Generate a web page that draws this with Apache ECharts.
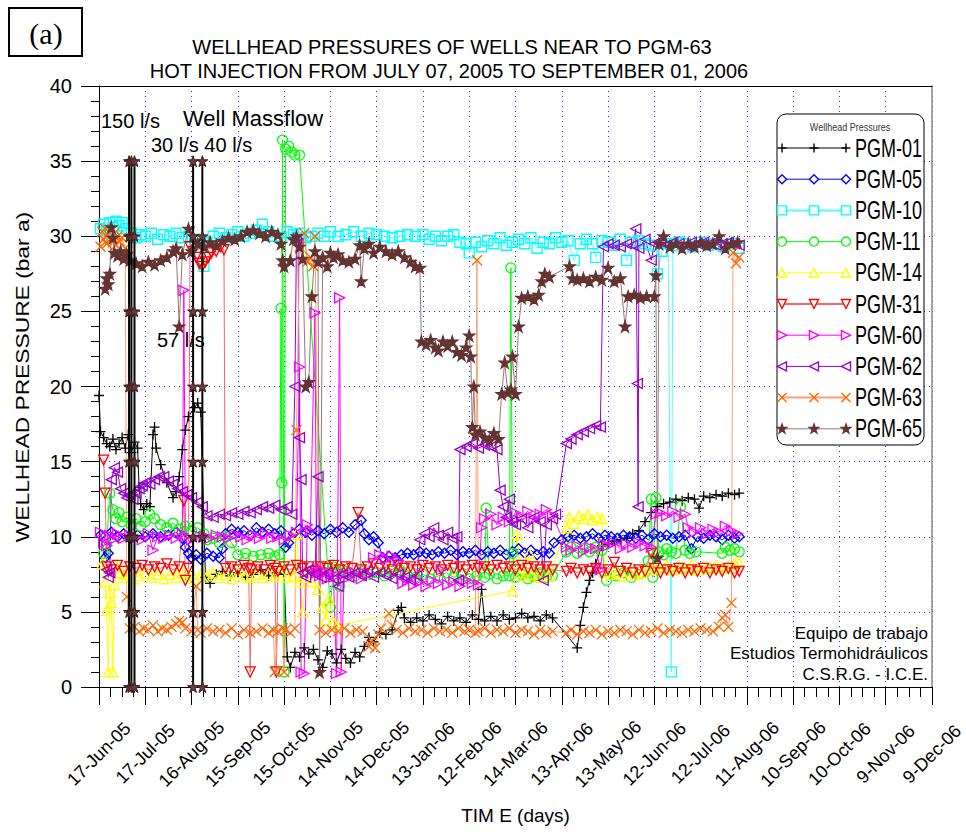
<!DOCTYPE html>
<html>
<head>
<meta charset="utf-8">
<script src="https://cdn.jsdelivr.net/npm/echarts/dist/echarts.min.js"></script>
<style>
  html, body { margin: 0; padding: 0; background: #fff; }
  #chart { width: 966px; height: 832px; }
</style>
</head>
<body>
<div id="chart"></div>
<script>
// Time axis: days counted from 17-Jun-2005, one labelled tick every 30 days
const tickLabels = ['17-Jun-05','17-Jul-05','16-Aug-05','15-Sep-05','15-Oct-05','14-Nov-05',
  '14-Dec-05','13-Jan-06','12-Feb-06','14-Mar-06','13-Apr-06','13-May-06','12-Jun-06',
  '12-Jul-06','11-Aug-06','10-Sep-06','10-Oct-06','9-Nov-06','9-Dec-06'];

// Wellhead pressure readings, [day, bar a]
const pgm01 = [[0,19.4],[1,17.0],[3,16.6],[5,16.2],[7,16.0],[9,16.5],[11,15.8],[13,16.2],[15,16.6],[17,15.9],[19,16.8],[21,15.6],[23,16.3],[25,15.9],[26,13.3],[27,12.2],[29,11.8],[31,12.2],[33,12.0],[35,16.8],[36,17.3],[37,15.9],[40,14.8],[44,13.6],[48,12.6],[50,13.0],[52,14.0],[54,15.8],[56,17.1],[58,18.0],[62,18.6],[64,18.9],[66,18.3],[69,7.3],[72,6.9],[76,7.5],[80,7.7],[85,7.4],[90,7.6],[95,7.3],[100,7.5],[105,7.8],[110,7.4],[115,7.6],[120,7.5],[122,2.0],[124,1.3],[127,2.3],[130,2.0],[133,2.6],[136,2.2],[139,2.5],[142,1.8],[145,1.3],[148,2.4],[151,2.2],[154,1.6],[157,2.5],[160,1.9],[163,1.6],[166,2.3],[169,2.0],[172,2.7],[175,3.3],[178,3.0],[182,3.6],[186,3.5],[190,3.8],[194,5.1],[196,5.3],[198,4.6],[202,4.3],[206,4.6],[210,4.4],[214,4.8],[218,4.5],[222,4.2],[226,4.7],[230,4.4],[234,4.6],[238,4.3],[242,4.8],[246,4.5],[248,6.5],[250,4.4],[254,4.7],[258,4.4],[262,4.8],[266,4.5],[270,4.6],[274,4.9],[278,4.6],[282,4.7],[286,4.4],[290,4.8],[294,4.6],[310,2.6],[312,4.1],[314,5.3],[316,6.3],[318,7.1],[320,7.6],[322,8.2],[326,9.4],[330,9.5],[334,9.7],[338,9.8],[342,9.9],[346,10.2],[350,10.4],[354,11.0],[358,11.6],[362,12.0],[366,12.2],[370,12.3],[374,12.5],[378,12.4],[382,12.6],[386,12.5],[389,11.9],[392,12.7],[396,12.6],[400,12.8],[404,12.7],[408,12.9],[412,12.8],[415,12.9]];

const pgm05 = [[1,10.1],[4,8.6],[6,8.9],[8,10.3],[12,10.0],[16,10.2],[20,9.9],[25,10.1],[30,10.0],[35,10.2],[40,10.0],[45,10.1],[50,10.3],[54,9.9],[56,9.3],[58,8.9],[60,8.6],[63,8.8],[66,8.5],[70,8.9],[74,8.7],[78,8.6],[80,9.2],[82,10.2],[86,10.5],[90,10.3],[94,10.4],[98,10.1],[102,10.6],[106,10.3],[110,10.5],[114,10.2],[118,10.4],[121,9.3],[123,9.6],[126,10.2],[130,10.5],[134,10.3],[138,10.1],[142,10.4],[146,10.2],[150,10.5],[154,10.3],[158,10.6],[162,10.3],[166,10.8],[170,11.1],[172,10.2],[175,9.8],[178,10.0],[181,9.6],[184,8.6],[188,8.7],[192,8.6],[196,8.8],[200,8.9],[204,8.8],[208,9.0],[212,8.9],[216,8.8],[220,9.0],[224,8.9],[228,9.1],[232,8.8],[236,9.0],[240,8.9],[244,9.1],[248,8.8],[252,9.0],[256,8.9],[260,9.1],[264,8.8],[268,9.0],[272,9.2],[276,8.9],[280,9.1],[284,8.8],[288,9.0],[292,8.9],[295,9.6],[300,9.8],[304,10.0],[308,10.1],[312,9.9],[316,10.0],[320,10.2],[324,9.9],[328,10.1],[332,10.0],[336,9.9],[340,10.1],[344,10.0],[348,9.9],[352,10.1],[356,9.8],[360,10.2],[364,10.0],[368,10.1],[372,9.9],[376,10.0],[380,10.1],[384,9.2],[388,10.0],[392,9.9],[396,10.1],[400,10.0],[404,9.8],[408,10.1],[412,9.9],[415,10.0]];

const pgm10 = [[1,30.5],[3,30.8],[5,30.4],[7,30.9],[9,30.6],[11,31.0],[13,30.7],[15,30.9],[18,30.5],[21,30.2],[24,29.9],[27,30.1],[30,30.0],[34,30.2],[38,29.8],[42,30.1],[46,30.0],[50,30.2],[54,29.9],[58,30.0],[62,29.8],[66,29.5],[68,28.0],[70,29.6],[74,30.0],[78,30.2],[82,29.9],[86,30.1],[90,30.3],[94,30.0],[98,30.2],[102,30.4],[106,30.8],[110,30.3],[114,30.0],[118,29.9],[122,30.3],[126,30.1],[130,30.2],[134,29.9],[138,30.0],[142,30.2],[146,30.0],[150,30.3],[155,30.0],[160,30.1],[165,30.3],[170,30.0],[175,30.2],[180,30.1],[185,30.0],[190,29.9],[195,30.0],[200,30.1],[205,30.0],[210,30.1],[214,29.8],[218,30.0],[222,29.7],[226,30.0],[230,30.1],[234,29.6],[238,29.5],[240,28.9],[244,29.6],[248,29.3],[252,29.7],[256,29.5],[260,29.9],[264,29.4],[268,29.6],[272,29.8],[276,29.5],[280,29.9],[284,29.2],[288,29.6],[292,29.5],[296,29.9],[300,29.6],[304,29.7],[308,28.4],[312,29.5],[316,29.8],[320,29.5],[322,28.6],[326,29.7],[330,29.6],[334,29.4],[338,29.8],[342,28.4],[346,29.6],[350,29.7],[354,29.5],[358,29.4],[362,27.5],[365,29.0],[369,29.5],[371,1.0],[372,29.4],[376,29.6],[380,29.5],[385,29.3],[390,29.6],[395,29.4],[400,29.5],[405,29.3],[410,29.5],[415,29.2]];

const pgm11 = [[3,8.9],[5,9.5],[7,12.9],[9,11.8],[11,11.2],[13,11.6],[15,11.0],[18,11.3],[21,10.8],[24,11.2],[27,10.7],[30,11.0],[33,11.5],[36,11.2],[40,10.8],[44,10.6],[48,10.9],[52,10.5],[56,10.7],[60,10.4],[64,10.6],[68,10.2],[70,9.8],[74,9.9],[78,9.6],[82,10.0],[86,9.6],[90,8.8],[95,8.9],[100,8.7],[105,8.8],[110,8.9],[114,8.7],[117,8.8],[118,25.2],[118.5,13.6],[119,36.4],[120,1.0],[121,35.8],[123,36.0],[125,35.6],[127,35.4],[130,35.4],[150,5.3],[152,8.0],[154,7.7],[156,6.7],[158,7.8],[162,7.6],[166,7.4],[170,7.7],[175,7.5],[180,7.6],[185,7.4],[190,7.7],[195,7.8],[200,7.4],[205,7.3],[210,7.5],[215,7.2],[220,7.4],[225,7.6],[230,7.3],[235,7.5],[240,7.2],[245,7.4],[250,7.3],[251,11.9],[253,7.5],[258,7.2],[262,7.4],[266,7.4],[267,27.9],[268,8.9],[270,7.3],[274,7.5],[278,7.2],[282,7.4],[286,7.6],[290,7.3],[294,7.4],[303,9.0],[306,9.3],[310,8.9],[314,9.2],[318,9.0],[322,9.3],[326,9.1],[329,7.1],[335,7.4],[340,7.6],[345,7.3],[350,7.5],[356,8.4],[358,12.5],[359,7.3],[361,12.6],[363,9.0],[366,8.8],[368,9.2],[371,9.0],[374,8.9],[377,12.0],[380,9.1],[383,8.9],[387,9.0],[404,8.9],[406,9.3],[409,9.1],[412,9.2],[415,9.0]];

const pgm14 = [[2,8.2],[4,7.0],[5,5.1],[6,1.0],[7,6.3],[8,5.6],[9,1.0],[10,6.8],[12,8.0],[14,7.6],[16,7.3],[18,7.5],[22,7.2],[26,7.4],[30,7.6],[34,7.3],[38,7.5],[42,7.2],[46,7.5],[50,7.3],[54,7.6],[58,7.4],[62,7.2],[66,7.5],[70,7.4],[74,7.6],[78,7.3],[82,7.5],[86,7.2],[90,7.6],[94,7.4],[98,7.3],[102,7.5],[106,7.3],[110,7.5],[114,7.4],[118,7.6],[122,7.3],[126,7.4],[128,10.2],[130,7.0],[132,5.0],[134,7.3],[138,7.0],[142,6.5],[145,5.3],[147,4.5],[149,5.9],[152,4.3],[155,4.1],[268,6.4],[271,10.2],[273,7.6],[276,7.4],[279,8.9],[281,7.5],[285,7.3],[289,7.6],[292,7.4],[303,10.6],[305,11.3],[308,10.9],[311,11.4],[314,11.2],[317,11.5],[320,11.1],[323,11.3],[326,11.2],[328,7.7],[332,7.5],[336,7.6],[340,7.4],[344,7.7],[348,7.5],[352,7.6],[356,7.8],[360,8.0],[364,7.9],[368,8.1],[372,7.8],[376,8.0],[380,7.9],[384,8.1],[388,7.8],[392,8.0],[396,7.9],[400,8.1],[404,7.9],[408,8.0],[412,8.2],[415,8.3]];

const pgm31 = [[3,15.1],[4,12.9],[5,8.0],[8,7.8],[12,8.1],[16,7.7],[20,8.0],[24,7.9],[28,8.1],[32,7.8],[36,8.0],[40,7.9],[44,8.2],[48,7.8],[52,8.0],[55,12.4],[56,7.1],[58,7.9],[59,29.3],[61,29.0],[63,28.6],[65,28.2],[67,28.0],[69,28.3],[71,28.6],[73,28.9],[76,29.0],[79,29.3],[81,29.1],[82,7.9],[86,8.0],[90,7.8],[94,8.1],[97,7.9],[98,1.0],[99,7.8],[103,8.0],[107,7.8],[111,8.1],[114,7.9],[115,1.0],[116,7.7],[120,8.0],[124,7.8],[128,8.1],[132,7.9],[136,8.0],[140,7.7],[144,8.0],[148,7.9],[152,8.1],[156,7.8],[160,8.0],[164,7.9],[168,11.6],[170,7.8],[174,8.0],[178,8.2],[182,7.9],[186,8.0],[190,7.8],[194,8.1],[198,7.9],[202,8.0],[206,7.8],[210,8.1],[214,7.9],[218,8.0],[222,7.8],[226,8.1],[230,7.9],[234,8.0],[238,7.8],[242,8.1],[246,7.9],[250,8.0],[254,7.8],[258,8.1],[262,7.9],[266,8.0],[270,7.8],[274,8.1],[278,7.9],[282,8.0],[286,7.8],[290,8.0],[294,7.8],[303,7.7],[306,7.9],[310,7.6],[314,7.8],[318,7.7],[322,7.9],[326,7.6],[330,7.8],[334,8.3],[338,7.7],[342,7.9],[346,7.6],[350,7.8],[354,7.7],[358,8.9],[360,7.9],[364,7.6],[368,7.8],[372,7.7],[376,7.9],[380,7.6],[384,7.8],[388,7.7],[392,7.9],[396,7.6],[400,7.8],[404,7.7],[408,7.9],[412,7.6],[415,7.7]];

const pgm60 = [[1,10.3],[3,9.6],[5,9.4],[7,10.1],[9,9.8],[12,10.2],[16,9.9],[20,10.1],[24,10.0],[28,9.8],[32,10.2],[35,9.1],[38,10.0],[42,9.9],[46,10.1],[50,9.9],[54,10.2],[55,26.4],[56,10.0],[60,9.8],[64,10.1],[68,10.0],[72,9.9],[76,10.1],[80,10.0],[84,9.9],[88,10.1],[92,10.0],[96,9.8],[100,10.1],[104,9.9],[108,10.2],[112,9.9],[116,10.0],[120,9.8],[124,10.1],[128,10.3],[130,21.3],[131,1.0],[133,0.9],[135,10.8],[137,10.4],[140,24.9],[141,7.6],[143,7.4],[145,7.7],[148,7.2],[150,7.6],[152,7.3],[154,0.9],[156,25.9],[157,1.0],[159,7.5],[162,7.3],[166,7.6],[170,7.2],[174,7.5],[178,8.6],[182,8.8],[186,8.5],[190,8.7],[194,8.4],[197,6.9],[200,7.1],[204,6.8],[208,7.0],[212,6.7],[216,7.1],[220,6.9],[222,7.8],[226,6.8],[230,7.0],[234,6.7],[238,7.1],[242,6.9],[246,6.8],[248,10.6],[250,11.2],[254,11.5],[258,10.8],[262,11.3],[266,11.0],[270,11.6],[274,11.3],[278,11.7],[282,11.2],[286,11.5],[290,11.8],[294,11.4],[303,9.3],[306,9.1],[310,9.4],[314,9.0],[318,9.3],[322,9.2],[325,7.8],[327,9.5],[330,9.4],[334,9.6],[338,9.2],[342,9.5],[346,9.3],[350,9.6],[354,9.4],[358,9.3],[361,11.5],[364,11.6],[368,11.4],[372,11.7],[376,11.3],[380,11.5],[382,10.6],[386,10.3],[390,10.6],[394,10.2],[398,10.5],[402,10.3],[406,10.7],[410,10.4],[414,10.2]];

const pgm62 = [[5,7.8],[6,7.3],[7,7.6],[8,13.8],[10,14.6],[12,14.3],[14,13.2],[16,12.9],[18,12.6],[20,12.8],[22,12.5],[24,12.9],[26,13.2],[28,13.4],[30,13.6],[33,13.5],[36,13.8],[39,14.0],[42,14.0],[45,13.7],[48,13.5],[51,13.2],[54,13.0],[57,12.8],[60,12.6],[64,12.3],[67,12.0],[70,11.4],[74,11.3],[78,11.5],[82,11.4],[86,11.6],[90,11.5],[94,11.7],[98,11.6],[102,11.8],[106,12.0],[110,11.9],[114,12.1],[118,11.8],[122,12.0],[125,11.5],[127,20.0],[128,29.8],[129,29.5],[130,16.6],[131,13.8],[132,7.6],[134,7.3],[136,7.8],[140,7.5],[142,14.0],[144,7.3],[148,7.6],[152,7.2],[155,6.7],[158,7.5],[162,7.3],[166,7.6],[170,7.4],[174,7.7],[178,7.3],[182,7.6],[186,7.4],[190,7.2],[194,7.5],[198,7.3],[202,7.1],[206,7.4],[208,9.8],[211,10.2],[214,10.0],[217,10.6],[220,10.1],[223,9.8],[226,10.3],[229,9.9],[232,10.0],[233,7.1],[234,15.8],[238,16.0],[242,16.2],[246,15.9],[250,16.1],[254,16.0],[258,15.8],[260,13.1],[262,12.0],[264,11.3],[266,12.5],[268,11.0],[270,10.8],[274,11.2],[278,10.6],[282,11.3],[286,11.0],[288,7.1],[290,10.8],[294,11.2],[296,11.5],[303,16.2],[306,16.5],[310,16.8],[314,17.0],[318,17.2],[322,17.4],[325,17.3],[327,29.3],[330,29.5],[334,29.4],[338,29.3],[342,29.5],[346,29.4],[348,30.5],[349,20.2],[349.5,12.0],[350,29.2],[354,29.8],[358,28.4],[360,29.5],[364,29.7],[368,29.4],[372,29.6],[376,29.5],[380,29.4],[384,29.6],[388,29.5],[392,29.6],[396,29.5],[400,29.4],[404,29.5],[408,29.6],[412,29.5],[415,29.4]];

const pgm63 = [[1,29.3],[2,30.3],[3,29.8],[4,30.5],[5,29.5],[6,30.1],[7,29.8],[8,30.4],[9,29.6],[10,30.2],[11,29.4],[12,30.0],[13,29.7],[15,29.9],[17,29.2],[18,6.0],[20,3.9],[23,4.0],[26,3.7],[29,3.9],[32,3.8],[35,4.1],[38,3.7],[41,3.9],[44,3.8],[47,4.0],[50,4.2],[52,4.4],[54,4.3],[56,3.9],[60,3.7],[63,6.7],[64,3.8],[66,3.6],[70,3.9],[74,3.7],[78,3.8],[82,3.6],[86,3.9],[90,3.5],[94,3.8],[98,3.6],[102,3.7],[106,3.9],[110,3.6],[113,3.8],[114,1.0],[116,3.7],[119,3.9],[120,1.0],[121,3.8],[124,3.6],[127,3.9],[128,17.1],[130,29.3],[133,30.2],[135,28.3],[137,28.6],[139,28.0],[140,30.0],[143,3.8],[147,3.6],[151,3.8],[155,3.7],[159,3.9],[163,3.6],[167,3.8],[171,3.7],[175,2.7],[177,3.1],[179,2.6],[181,3.5],[183,3.9],[188,4.9],[190,4.1],[193,3.8],[197,3.6],[201,3.9],[205,3.7],[209,3.8],[213,3.6],[217,3.9],[221,3.7],[225,3.8],[229,3.6],[233,3.9],[237,3.7],[240,3.8],[244,3.6],[245,28.4],[246,3.7],[250,3.9],[254,3.6],[258,3.8],[262,3.7],[266,3.9],[270,3.6],[274,3.8],[278,3.7],[282,3.5],[286,3.8],[290,3.6],[294,3.7],[303,3.6],[306,3.8],[310,3.5],[314,3.7],[318,3.6],[322,3.8],[326,3.5],[330,3.7],[334,3.6],[338,3.8],[342,3.7],[346,3.5],[350,3.8],[354,3.6],[358,3.7],[362,3.9],[366,3.6],[370,3.8],[374,3.7],[378,3.6],[382,3.8],[386,3.7],[390,3.9],[394,3.8],[398,3.7],[402,4.0],[404,4.6],[406,4.8],[408,4.0],[410,5.6],[411,28.9],[413,28.2],[415,28.6]];

const pgm65 = [[4,26.5],[5,27.2],[6,26.8],[7,27.5],[8,30.6],[9,29.9],[10,28.9],[12,28.7],[14,29.0],[16,28.5],[18,28.8],[20,28.4],[24,28.2],[28,28.0],[32,28.3],[36,28.1],[40,28.4],[44,28.6],[48,29.0],[50,29.2],[52,24.0],[54,28.8],[58,30.5],[60,29.0],[64,29.5],[68,29.3],[72,29.6],[76,29.4],[80,29.7],[84,29.9],[88,29.8],[92,30.0],[96,30.3],[100,30.4],[104,30.2],[108,30.0],[112,30.3],[116,30.1],[118,29.5],[119,28.4],[120,28.0],[124,28.4],[126,29.8],[128,30.0],[130,29.3],[132,28.5],[134,20.0],[136,20.3],[138,26.0],[140,29.0],[142,28.3],[143,1.0],[145,28.6],[148,28.0],[150,28.9],[152,28.6],[155,28.8],[158,28.4],[162,28.3],[166,28.5],[169,29.4],[170,27.0],[172,29.2],[175,29.5],[178,28.9],[182,29.3],[186,29.0],[190,28.8],[194,29.0],[198,28.6],[202,28.3],[205,28.0],[208,27.9],[209,23.0],[212,22.8],[215,23.1],[218,22.6],[220,22.4],[223,23.0],[226,22.7],[229,23.0],[232,22.3],[235,22.1],[238,22.6],[240,23.4],[241,22.0],[242,17.3],[243,20.0],[244,16.8],[247,17.0],[250,16.6],[253,16.4],[256,16.9],[259,16.5],[261,19.5],[263,21.6],[265,19.6],[267,19.8],[268,22.0],[270,19.5],[272,24.0],[274,25.9],[278,26.0],[282,25.8],[285,26.1],[287,27.0],[289,27.5],[292,27.3],[305,28.0],[307,27.2],[310,27.1],[314,27.2],[318,27.0],[322,27.3],[326,27.1],[330,27.9],[334,27.0],[338,27.2],[341,24.0],[343,26.0],[347,26.1],[351,25.9],[355,26.0],[360,26.0],[361,27.4],[362,8.6],[363,29.5],[366,30.0],[370,29.3],[374,29.5],[378,29.2],[382,29.5],[386,29.3],[390,29.6],[394,29.4],[398,29.5],[402,30.0],[406,29.2],[410,29.5],[414,29.6]];

// Injection massflow step markers: days of each vertical trace and the levels ticked on it
const massflowDays = [19.5, 21, 23, 61, 67];
const massflowLevels = [0, 5, 10, 15, 20, 25, 30, 35];

// Marker shapes on a 10x10 box: closed polygons, open stroke segments, or a circle
const MARKS = {
  plus:     { segs: [[[5, 0], [5, 10]], [[0, 5], [10, 5]]] },
  cross:    { segs: [[[0, 0], [10, 10]], [[10, 0], [0, 10]]] },
  diamond:  { poly: [[5, 0], [10, 5], [5, 10], [0, 5]] },
  square:   { poly: [[0, 0], [10, 0], [10, 10], [0, 10]] },
  triUp:    { poly: [[5, 0], [10, 10], [0, 10]] },
  triDown:  { poly: [[0, 0], [10, 0], [5, 10]] },
  triRight: { poly: [[0, 0], [10, 5], [0, 10]] },
  triLeft:  { poly: [[10, 0], [0, 5], [10, 10]] },
  star:     { poly: [[5, 0], [6.2, 3.6], [10, 3.6], [6.9, 5.9], [8.1, 9.5], [5, 7.3], [1.9, 9.5], [3.1, 5.9], [0, 3.6], [3.8, 3.6]] },
  circle:   { circle: true }
};

function markPath(m) {
  const s = MARKS[m];
  if (s.circle) return 'path://M0 5A5 5 0 1 0 10 5A5 5 0 1 0 0 5Z';
  if (s.segs) return 'path://' + s.segs.map(g => 'M' + g[0].join(' ') + 'L' + g[1].join(' ')).join('');
  return 'path://M' + s.poly.map(p => p.join(' ')).join('L') + 'Z';
}

function markGraphic(m, cx, cy, size, stroke, fill, z) {
  const s = MARKS[m];
  const k = size / 10;
  const tr = p => [cx - size / 2 + p[0] * k, cy - size / 2 + p[1] * k];
  const style = { stroke: stroke, fill: fill, lineWidth: 1.4 };
  if (s.circle) return [{ type: 'circle', z: z, shape: { cx: cx, cy: cy, r: size / 2 }, style: style }];
  if (s.segs) return s.segs.map(g => {
    const a = tr(g[0]), b = tr(g[1]);
    return { type: 'line', z: z, shape: { x1: a[0], y1: a[1], x2: b[0], y2: b[1] }, style: { stroke: stroke, lineWidth: 1.4 } };
  });
  return [{ type: 'polygon', z: z, shape: { points: s.poly.map(tr) }, style: style }];
}

const wells = [
  { name: 'PGM-01', data: pgm01, color: '#000000', line: '#000000', fill: 'none', mark: 'plus' },
  { name: 'PGM-05', data: pgm05, color: '#0000ff', line: '#0000ff', fill: 'none', mark: 'diamond' },
  { name: 'PGM-10', data: pgm10, color: '#00ffff', line: '#55ffff', fill: 'none', mark: 'square' },
  { name: 'PGM-11', data: pgm11, color: '#00ff00', line: '#00ff00', fill: 'none', mark: 'circle' },
  { name: 'PGM-14', data: pgm14, color: '#ffff00', line: '#ffff00', fill: 'none', mark: 'triUp' },
  { name: 'PGM-31', data: pgm31, color: '#ff0000', line: '#f06868', fill: 'none', mark: 'triDown' },
  { name: 'PGM-60', data: pgm60, color: '#ff00ff', line: '#ff00ff', fill: 'none', mark: 'triRight' },
  { name: 'PGM-62', data: pgm62, color: '#9900cc', line: '#9900cc', fill: 'none', mark: 'triLeft' },
  { name: 'PGM-63', data: pgm63, color: '#ff6600', line: '#ffa070', fill: 'none', mark: 'cross' },
  { name: 'PGM-65', data: pgm65, color: '#663333', line: '#9a7676', fill: '#663333', mark: 'star' }
];

const FONT = '"Liberation Sans", Arial, sans-serif';

const series = wells.map(w => ({
  type: 'line',
  name: w.name,
  data: w.data,
  symbol: markPath(w.mark),
  symbolSize: w.mark === 'star' ? 11 : 10,
  showSymbol: true,
  showAllSymbol: true,
  lineStyle: { color: w.line, width: 1 },
  itemStyle: { color: w.fill === 'none' ? 'rgba(0,0,0,0)' : w.fill, borderColor: w.color, borderWidth: 1.3 },
  emphasis: { disabled: true },
  animation: false,
  z: 2
}));

massflowDays.forEach(d => {
  series.push({
    type: 'line',
    name: 'Well Massflow',
    data: massflowLevels.map(v => [d, v]),
    symbol: markPath('star'),
    symbolSize: 11,
    lineStyle: { color: '#000', width: 2 },
    itemStyle: { color: '#6b3a3a', borderColor: '#3a1c1c', borderWidth: 1 },
    emphasis: { disabled: true },
    animation: false,
    z: 3
  });
});

// Legend panel drawn as graphics: line, three markers, well name
const LZ = 20;
const legendItems = [
  { type: 'rect', z: LZ, shape: { x: 777, y: 114, width: 147, height: 331, r: 9 }, style: { fill: '#fff', stroke: '#000', lineWidth: 1 } },
  { type: 'text', z: LZ + 1, x: 850, y: 127, scaleX: 0.9, style: { text: 'Wellhead Pressures', x: 0, y: 0, fill: '#333', font: '10px ' + FONT, align: 'center', verticalAlign: 'middle' } }
];
wells.forEach((w, i) => {
  const y = 148 + i * 31.2;
  const thick = (w.mark === 'square' || w.mark === 'triDown' || w.mark === 'cross') ? 2 : 1;
  legendItems.push({ type: 'line', z: LZ + 1, shape: { x1: 782, y1: y, x2: 846, y2: y }, style: { stroke: w.line, lineWidth: thick } });
  [782, 814, 846].forEach(x => {
    markGraphic(w.mark, x, y, 9, w.color, w.fill === 'none' ? '#fff' : w.fill, LZ + 2).forEach(g => legendItems.push(g));
  });
  legendItems.push({
    type: 'text', z: LZ + 1, x: 855, y: y, scaleX: 0.72,
    style: { text: w.name, x: 0, y: 0, fill: '#000', font: '25px ' + FONT, align: 'left', verticalAlign: 'middle' }
  });
});

const textAt = (str, x, y, size, align) => ({
  type: 'text', x: x, y: y,
  style: { text: str, x: 0, y: 0, fill: '#000', font: size + 'px ' + FONT, align: align, verticalAlign: 'middle' }
});

const chart = echarts.init(document.getElementById('chart'), null, { renderer: 'svg' });
chart.setOption({
  backgroundColor: '#ffffff',
  animation: false,
  grid: { left: 99, right: 34, top: 86, bottom: 145, containLabel: false, outerBoundsMode: 'none' },
  xAxis: [{
    type: 'value', min: 0, max: 540, interval: 30,
    axisLine: { show: true, onZero: false, lineStyle: { color: '#000', width: 1 } },
    axisTick: { show: true, inside: false, length: 18, lineStyle: { color: '#000' } },
    minorTick: { show: true, splitNumber: 4, length: 10, lineStyle: { color: '#000' } },
    splitLine: { show: true, lineStyle: { color: '#2a2aff', width: 1, type: [1, 4] } },
    axisLabel: {
      rotate: 45, align: 'center', verticalAlign: 'middle', margin: 67,
      fontSize: 18, fontFamily: FONT, color: '#000',
      formatter: v => tickLabels[Math.round(v / 30)] || ''
    },
    name: 'TIM E (days)', nameLocation: 'middle', nameGap: 119,
    nameTextStyle: { fontSize: 19, fontFamily: FONT, color: '#000' }
  }, {
    type: 'value', min: 0, max: 540, position: 'top',
    axisLine: { show: true, onZero: false, lineStyle: { color: '#000', width: 1 } },
    axisTick: { show: false }, axisLabel: { show: false }, splitLine: { show: false }
  }],
  yAxis: [{
    type: 'value', min: 0, max: 40, interval: 5,
    axisLine: { show: true, onZero: false, lineStyle: { color: '#000', width: 1 } },
    axisTick: { show: true, inside: false, length: 18, lineStyle: { color: '#000' } },
    minorTick: { show: true, splitNumber: 5, length: 8, lineStyle: { color: '#000' } },
    splitLine: { show: true, lineStyle: { color: '#2a2aff', width: 1, type: [1, 4] } },
    axisLabel: { margin: 27, fontSize: 20, fontFamily: FONT, color: '#000' }
  }, {
    type: 'value', min: 0, max: 40, position: 'right',
    axisLine: { show: true, onZero: false, lineStyle: { color: '#8a8a8a', width: 1.5 } },
    axisTick: { show: false }, axisLabel: { show: false }, splitLine: { show: false }
  }],
  series: series,
  graphic: [
    { type: 'rect', shape: { x: 9, y: 8, width: 73, height: 48 }, style: { fill: '#fff', stroke: '#000', lineWidth: 2 } },
    { type: 'text', x: 46, y: 33, style: { text: '(a)', x: 0, y: 0, fill: '#000', font: '30px "Liberation Serif", "Times New Roman", serif', align: 'center', verticalAlign: 'middle' } },
    textAt('WELLHEAD PRESSURES OF WELLS NEAR TO PGM-63', 452, 47, 20, 'center'),
    textAt('HOT INJECTION FROM JULY 07, 2005 TO SEPTEMBER 01, 2006', 449, 71, 20, 'center'),
    // vertical axis title, stretched along its length
    { type: 'text', x: 22, y: 377, rotation: Math.PI / 2, scaleX: 1.2,
      style: { text: 'WELLHEAD PRESSURE (bar a)', x: 0, y: 0, fill: '#000', font: '19px ' + FONT, align: 'center', verticalAlign: 'middle' } },
    textAt('150 l/s', 101, 121, 20, 'left'),
    textAt('Well Massflow', 183, 118, 22, 'left'),
    textAt('30 l/s 40 l/s', 151, 145, 20, 'left'),
    textAt('57 l/s', 157, 340, 20, 'left'),
    textAt('Equipo de trabajo', 928, 633, 17, 'right'),
    textAt('Estudios Termohidráulicos', 928, 653, 17, 'right'),
    textAt('C.S.R.G. - I.C.E.', 928, 674, 17, 'right')
  ].concat(legendItems)
});
</script>
</body>
</html>
